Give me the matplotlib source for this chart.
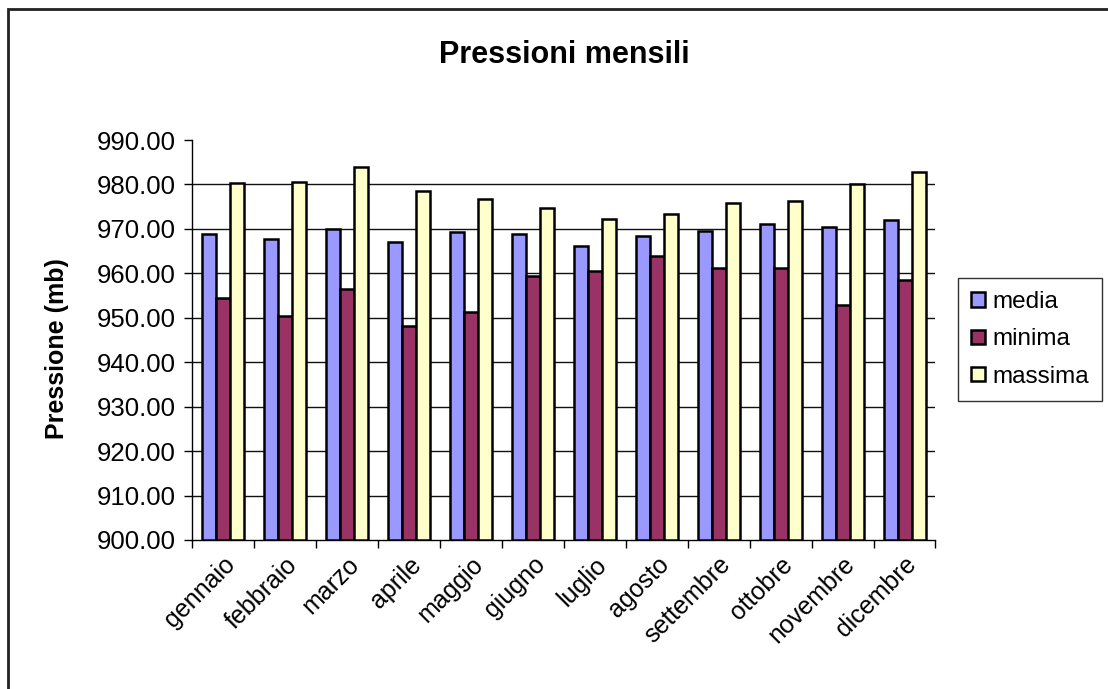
import matplotlib.pyplot as plt
import numpy as np
from matplotlib.patches import Rectangle

plt.rcParams["font.family"] = ["Liberation Sans", "DejaVu Sans"]

# Monthly pressure values (mb)
mesi = ["gennaio", "febbraio", "marzo", "aprile", "maggio", "giugno",
        "luglio", "agosto", "settembre", "ottobre", "novembre", "dicembre"]
media = [968.8, 967.7, 969.9, 967.1, 969.4, 968.8,
         966.2, 968.5, 969.5, 971.0, 970.4, 972.1]
minima = [954.4, 950.3, 956.5, 948.2, 951.2, 959.5,
          960.5, 964.0, 961.1, 961.1, 952.9, 958.5]
massima = [980.3, 980.6, 984.0, 978.6, 976.7, 974.8,
           972.3, 973.3, 975.8, 976.3, 980.2, 982.8]
y_ticks = [900, 910, 920, 930, 940, 950, 960, 970, 980, 990]

fig = plt.figure(figsize=(11.08, 6.89), dpi=100)
ax = fig.add_axes([0.1733, 0.2163, 0.6710, 0.5805])

x = np.arange(len(mesi))
w = 0.226
series = [(media, "#9999FF", "media"),
          (minima, "#993366", "minima"),
          (massima, "#FFFFCC", "massima")]
for i, (vals, col, lab) in enumerate(series):
    ax.bar(x + (i - 1) * w, np.array(vals) - 900, bottom=900, width=w,
           color=col, edgecolor="black", linewidth=1.8, label=lab, zorder=3)

ax.set_xlim(-0.5, len(mesi) - 0.5)
ax.set_ylim(900, 990)
ax.set_yticks(y_ticks)
ax.set_yticklabels([f"{v:.2f}" for v in y_ticks], fontsize=18.5)

# gridlines everywhere except the top tick
for v in y_ticks[1:-1]:
    ax.axhline(v, color="#111111", linewidth=1.0, zorder=1)

# x ticks sit on the category boundaries, labels in the middle
ax.set_xticks(np.arange(len(mesi) + 1) - 0.5)
ax.set_xticklabels([])
ax.set_xticks(x, minor=True)
ax.set_xticklabels(mesi, minor=True, rotation=45, ha="right",
                   rotation_mode="anchor", fontsize=18)
ax.tick_params(axis="x", which="minor", length=0, pad=9)
ax.tick_params(axis="x", which="major", length=6, width=1, direction="out")
ax.tick_params(axis="y", length=6, width=1, direction="out", pad=6)

for s in ["top", "right"]:
    ax.spines[s].set_visible(False)
ax.spines["left"].set_linewidth(1.0)
ax.spines["bottom"].set_linewidth(1.0)

ax.set_ylabel("Pressione (mb)", fontsize=18, fontweight="bold")
ax.yaxis.set_label_coords(-0.166, 0.478)
fig.text(0.509, 0.92, "Pressioni mensili", fontsize=22, fontweight="bold",
         ha="center", va="center")

leg = ax.legend(loc="upper left", bbox_to_anchor=(0.8646, 0.5965),
                bbox_transform=fig.transFigure, fontsize=17.5, frameon=True,
                fancybox=False, edgecolor="black", handlelength=0.55,
                handleheight=0.55, handletextpad=0.3, labelspacing=0.62,
                borderpad=0.55, borderaxespad=0)
leg.get_frame().set_linewidth(1.0)

# outer chart border (cut off at right and bottom like the reference)
fig.patches.append(Rectangle((0.0072, -0.1), 1.2, 0.1 + 0.987,
                             transform=fig.transFigure, fill=False,
                             edgecolor="#222222", linewidth=2))

fig.savefig("out.png", dpi=100)
